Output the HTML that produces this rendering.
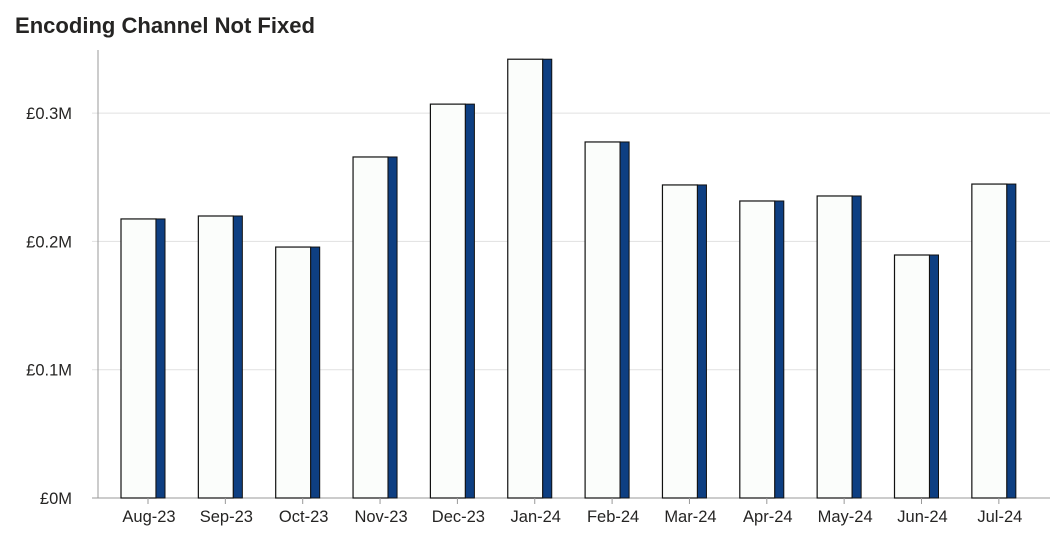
<!DOCTYPE html>
<html><head><meta charset="utf-8"><style>
body{margin:0;background:#fff;width:1057px;height:534px;overflow:hidden}
svg{font-family:"Liberation Sans",sans-serif}
</style></head><body>
<svg id="chart" width="1057" height="534">
<text x="15" y="33" font-size="22" font-weight="bold" fill="#252423" textLength="300" lengthAdjust="spacingAndGlyphs">Encoding Channel Not Fixed</text>
</svg>
<script>
const categories=["Aug-23","Sep-23","Oct-23","Nov-23","Dec-23","Jan-24","Feb-24","Mar-24","Apr-24","May-24","Jun-24","Jul-24"];
const values=[0.2175,0.2198,0.1956,0.2658,0.307,0.342,0.2775,0.244,0.2315,0.2354,0.1894,0.2447];
const yTicks=[0,0.1,0.2,0.3];
const yTickLabels=["£0M","£0.1M","£0.2M","£0.3M"];
const svg=document.getElementById('chart');
const NS='http://www.w3.org/2000/svg';
const x0=98,baseY=498,pxPer=1283,step=77.35,firstTick=148;
const y=v=>baseY-v*pxPer;
const xc=i=>firstTick+i*step;
function mk(t,a){const e=document.createElementNS(NS,t);for(const k in a)e.setAttribute(k,a[k]);svg.appendChild(e);return e;}
yTicks.forEach((v,i)=>{
  if(v>0){const g=mk('line',{x1:x0-6,x2:1050,y1:y(v),y2:y(v),stroke:'#e1e1e1','stroke-width':1});
  
  }
  const t=mk('text',{x:72,y:y(v)+6,'font-size':16.5,fill:'#252423','text-anchor':'end'});
  t.textContent=yTickLabels[i];
  
  
});
const ax=mk('line',{x1:x0,x2:x0,y1:50,y2:baseY,stroke:'#999','stroke-width':1});


const bx=mk('line',{x1:x0-6,x2:1050,y1:baseY,y2:baseY,stroke:'#999','stroke-width':1});


categories.forEach((c,i)=>{
  const cx=xc(i),top=y(values[i]);
  const w=mk('rect',{x:cx-27,y:top,width:35,height:baseY-top,fill:'#fbfdfb',stroke:'#111','stroke-width':1.2});
  
  
  const b=mk('rect',{x:cx+8,y:top,width:9,height:baseY-top,fill:'#0e3f82',stroke:'#111','stroke-width':1});
  
  
  const tk=mk('line',{x1:cx,x2:cx,y1:baseY,y2:baseY+6,stroke:'#999'});
  
  
  const t=mk('text',{x:cx+1,y:522,'font-size':16.5,fill:'#252423','text-anchor':'middle'});
  t.textContent=c;
  
  
});
</script>
</body></html>
